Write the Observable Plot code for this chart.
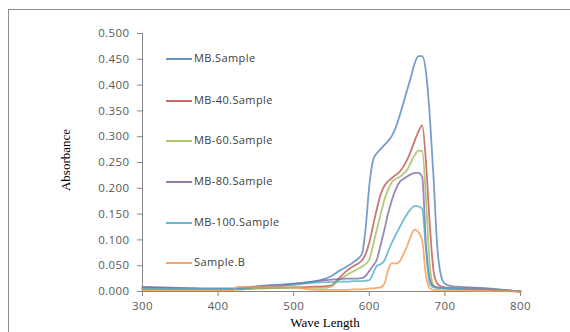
<!DOCTYPE html>
<html><head><meta charset="utf-8">
<script src="https://cdn.jsdelivr.net/npm/d3@7"></script>
<script src="https://cdn.jsdelivr.net/npm/@observablehq/plot@0.6"></script>
<style>
body{margin:0;background:#fff;}
#wrap{position:relative;width:570px;height:332px;overflow:hidden;background:#fff;}
#border{position:absolute;left:8px;top:9px;width:700px;height:500px;border:1px solid #8c8c8c;}
#chart{position:absolute;left:0;top:0;}
#chart svg text{letter-spacing:0.4px;}
.leg{position:absolute;font-family:'Open Sans',sans-serif;font-size:11px;letter-spacing:0.4px;color:#404040;white-space:nowrap;line-height:12px;}
.leg span.sw{display:inline-block;width:26px;height:1.3px;vertical-align:middle;margin-right:2px;}
.title{position:absolute;font-family:'Liberation Serif',serif;font-size:13px;color:#000;white-space:nowrap;}
</style></head><body>
<div id="wrap"><div id="border"></div><div id="chart"></div><div id="legend"></div>
<div class="title" id="ytitle" style="left:66px;top:160px;transform:translate(-50%,-50%) rotate(-90deg);">Absorbance</div>
<div class="title" id="xtitle" style="left:325px;top:323px;transform:translate(-50%,-50%);">Wave Length</div>
</div>
<script>
const wavelengths = [300,350,400,420,425,450,500,520,540,550,560,570,580,590,595,600,605,610,615,620,625,630,635,640,645,650,655,660,665,670,675,680,685,690,695,700,710,750,800];
const seriesNames = ["MB.Sample","MB-40.Sample","MB-60.Sample","MB-80.Sample","MB-100.Sample","Sample.B"];
const seriesColors = ["#4F81BD","#C0504D","#9BBB59","#8064A2","#4BACC6","#F79646"];
const mb     = [.008,.006,.005,.005,.005,.008,.014,.018,.024,.030,.040,.048,.058,.072,.120,.205,.255,.268,.276,.284,.292,.302,.318,.340,.365,.390,.415,.442,.456,.456,.425,.340,.220,.085,.030,.015,.010,.007,.000];
const mb40   = [.004,.004,.004,.004,.004,.006,.008,.009,.010,.012,.026,.040,.050,.060,.072,.095,.128,.160,.188,.205,.214,.220,.226,.232,.242,.255,.272,.292,.310,.322,.250,.130,.040,.015,.010,.008,.007,.005,.000];
const mb60   = [.004,.004,.004,.004,.004,.006,.007,.007,.007,.010,.022,.032,.040,.048,.053,.062,.090,.120,.150,.178,.198,.212,.218,.222,.228,.236,.250,.264,.273,.272,.180,.050,.012,.008,.007,.006,.005,.004,.000];
const mb80   = [.009,.007,.006,.006,.006,.010,.015,.018,.022,.023,.024,.025,.025,.026,.030,.040,.050,.062,.090,.120,.152,.178,.198,.212,.218,.223,.227,.230,.230,.222,.090,.025,.010,.008,.007,.006,.005,.004,.000];
const mb100  = [.006,.005,.005,.005,.005,.009,.013,.016,.018,.018,.019,.019,.020,.020,.021,.022,.035,.050,.053,.060,.078,.095,.110,.124,.138,.150,.160,.166,.165,.160,.080,.015,.008,.007,.006,.006,.005,.004,.000];
const sampleB= [.002,.002,.002,.002,.009,.009,.008,.004,.003,.003,.003,.003,.004,.004,.005,.006,.006,.007,.008,.015,.042,.055,.054,.058,.072,.088,.108,.120,.115,.098,.030,.006,.003,.003,.002,.002,.002,.001,.000];
const seriesValues = [mb, mb40, mb60, mb80, mb100, sampleB];
const xTicks = [300,400,500,600,700,800];
const yTicks = [0,0.05,0.1,0.15,0.2,0.25,0.3,0.35,0.4,0.45,0.5];

const data = [];
seriesNames.forEach((name,i)=>wavelengths.forEach((w,j)=>data.push({series:name, wl:w, abs:seriesValues[i][j]})));

const chart = Plot.plot({
  width:570, height:332, marginLeft:142, marginRight:50, marginTop:33, marginBottom:41,
  style:{background:"transparent", fontFamily:"'Open Sans',sans-serif", fontSize:"11.5px", color:"#595959"},
  x:{domain:[300,800]},
  y:{domain:[0,0.5]},
  color:{domain:seriesNames, range:seriesColors},
  marks:[
    Plot.axisY({ticks:yTicks, tickFormat:d3.format(".3f"), tickSize:5, tickPadding:8, label:null, stroke:"#868686"}),
    Plot.axisX({ticks:xTicks, tickFormat:d=>String(d), tickSize:5, tickPadding:5, label:null, stroke:"#868686"}),
    Plot.ruleX([300], {stroke:"#868686"}),
    Plot.ruleY([0], {stroke:"#868686"}),
    Plot.line(data, {x:"wl", y:"abs", z:"series", stroke:"series", strokeWidth:1.8, strokeOpacity:0.78, curve:"monotone-x"})
  ]
});
document.getElementById("chart").appendChild(chart);

const legend = document.getElementById("legend");
const legY = [58,100,140,181,222,262];
seriesNames.forEach((name,i)=>{
  const d = document.createElement("div");
  d.className = "leg";
  d.style.left = "166px";
  d.style.top = (legY[i]-6)+"px";
  d.innerHTML = `<span class="sw" style="background-color:${seriesColors[i]};opacity:0.85"></span>${name}`;
  legend.appendChild(d);
});
</script>
</body></html>
